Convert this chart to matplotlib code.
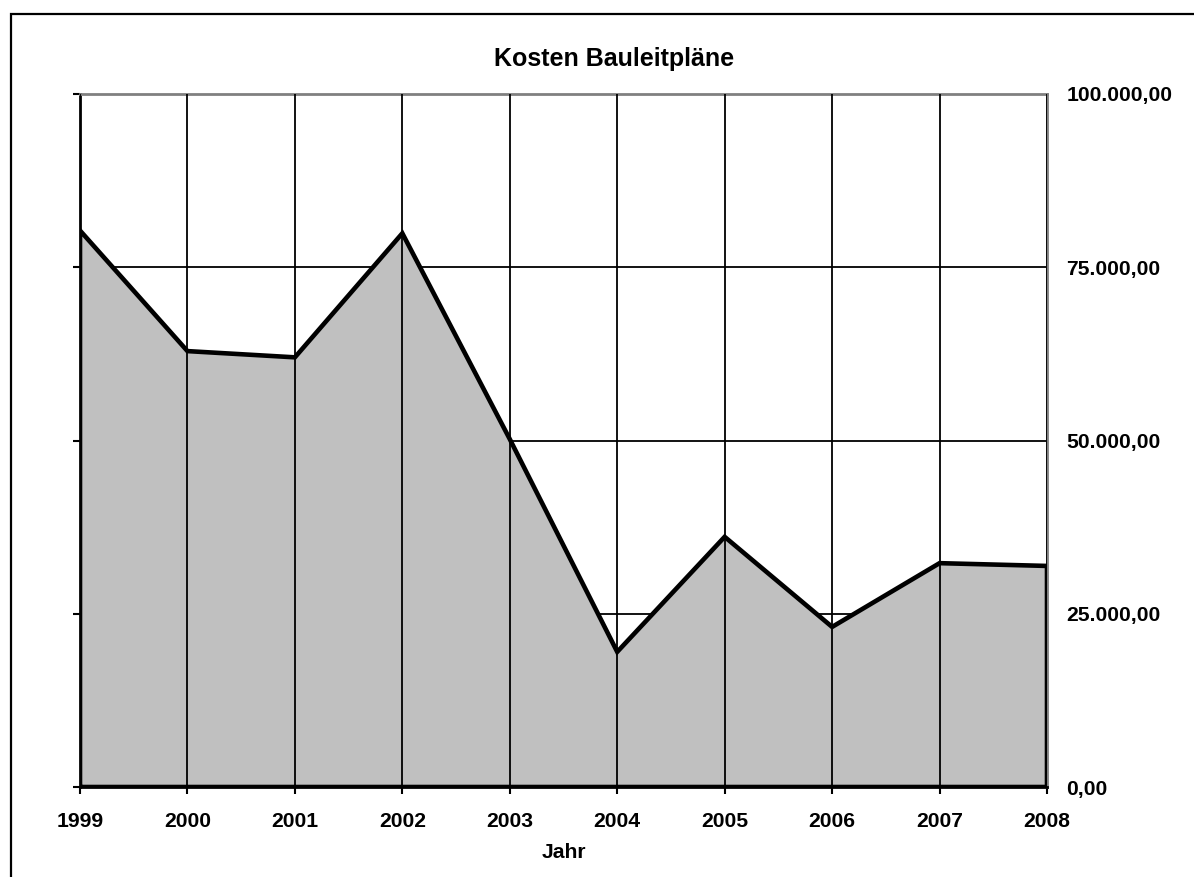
import matplotlib.pyplot as plt
from matplotlib.patches import Rectangle
from matplotlib.ticker import FuncFormatter

plt.rcParams['font.family'] = ['Liberation Sans', 'DejaVu Sans']

# Kosten der Bauleitpläne je Jahr (Euro)
years = [1999, 2000, 2001, 2002, 2003, 2004, 2005, 2006, 2007, 2008]
costs = [80300, 62900, 62000, 79900, 50200, 19500, 36100, 23100, 32300, 31900]
y_ticks = [0, 25000, 50000, 75000, 100000]


def de_format(v, pos=None):
    # deutsche Schreibweise: 100.000,00
    s = f'{v:,.2f}'
    return s.replace(',', 'X').replace('.', ',').replace('X', '.')


fig = plt.figure(figsize=(11.94, 8.77), dpi=100)
ax = fig.add_axes([80 / 1194, 1 - 787 / 877, 967 / 1194, 693 / 877])

# Rahmen um das gesamte Diagramm
fig.patches.append(Rectangle((11 / 1194, -0.1), 1.2, 1 - 14 / 877 + 0.1,
                             transform=fig.transFigure, fill=False,
                             edgecolor='black', linewidth=1.6))

# horizontale Gitterlinien hinter der Fläche
ax.hlines(y_ticks[1:-1], years[0], years[-1], colors='black', linewidth=1.3, zorder=1)

ax.fill_between(years, costs, 0, color='#c0c0c0', linewidth=0, zorder=2)

# senkrechte Linien je Jahr über der Fläche
ax.vlines(years, 0, y_ticks[-1], colors='black', linewidth=1.3, zorder=3)

# Umriss der Fläche
outline_x = [years[0]] + years + [years[-1], years[0]]
outline_y = [0] + costs + [0, 0]
ax.plot(outline_x, outline_y, color='black', linewidth=3.3,
        solid_joinstyle='miter', zorder=4)

ax.set_xlim(years[0], years[-1])
ax.set_ylim(0, y_ticks[-1])
ax.set_xticks(years)
ax.set_yticks(y_ticks)
ax.yaxis.set_major_formatter(FuncFormatter(de_format))

for side in ['top', 'right']:
    ax.spines[side].set_color('#808080')
    ax.spines[side].set_linewidth(2)
for side in ['left', 'bottom']:
    ax.spines[side].set_color('black')
    ax.spines[side].set_linewidth(2)

ax.tick_params(axis='y', left=True, right=False, labelleft=False, labelright=True,
               direction='out', length=5, width=1.5, pad=9, labelsize=15.2)
ax.tick_params(axis='x', direction='out', length=5, width=1.5, pad=13, labelsize=15.2)
for lbl in ax.get_xticklabels() + ax.get_yticklabels():
    lbl.set_fontweight('bold')

fig.text(614 / 1194, 1 - 59 / 877, 'Kosten Bauleitpläne', ha='center', va='center',
         fontsize=18, fontweight='bold')
fig.text(564 / 1194, 1 - 852 / 877, 'Jahr', ha='center', va='center',
         fontsize=15.2, fontweight='bold')

fig.savefig('out.png', dpi=100, facecolor='white')
